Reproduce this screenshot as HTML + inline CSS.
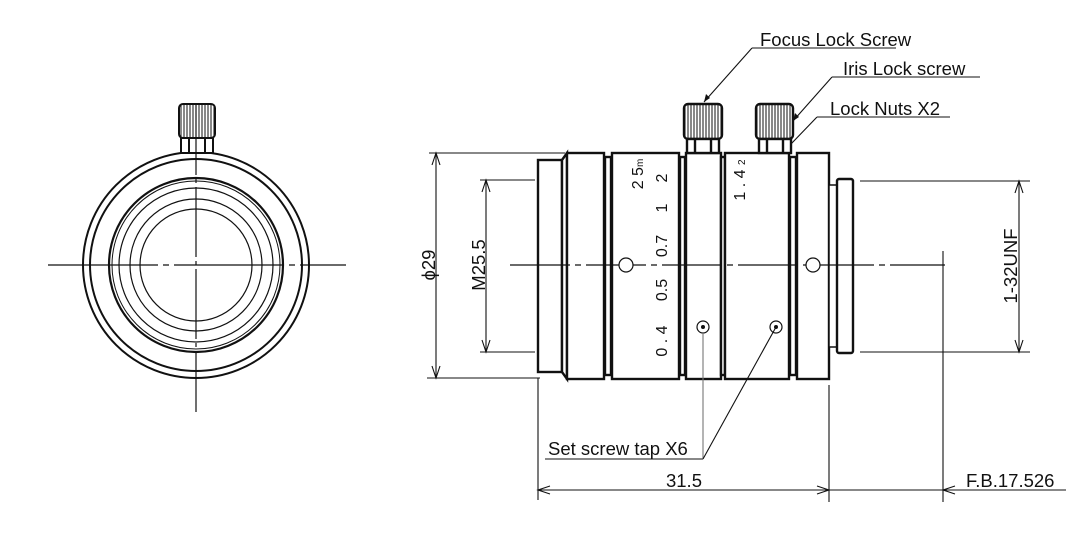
<!DOCTYPE html>
<html><head><meta charset="utf-8"><style>
html,body{margin:0;padding:0;background:#fff}
svg{display:block}
text{font-family:"Liberation Sans",sans-serif;fill:#111}
</style></head><body>
<svg width="1091" height="547" viewBox="0 0 1091 547" xmlns="http://www.w3.org/2000/svg">
<defs>
<pattern id="knurl" width="3" height="10" patternUnits="userSpaceOnUse"><rect width="3" height="10" fill="#fff"/><line x1="1" y1="0" x2="1" y2="10" stroke="#111" stroke-width="1"/></pattern>
</defs>
<!-- LEFT VIEW -->
<g fill="none" stroke="#111">
<circle cx="196" cy="265" r="113" stroke-width="2"/>
<circle cx="196" cy="265" r="106" stroke-width="2"/>
<circle cx="196" cy="265" r="87" stroke-width="2.2"/>
<circle cx="196" cy="265" r="84" stroke-width="1"/>
<circle cx="196" cy="265" r="77" stroke-width="1.2"/>
<circle cx="196" cy="265" r="66" stroke-width="1.2"/>
<circle cx="196" cy="265" r="56" stroke-width="1.2"/>
<rect x="179" y="104" width="36" height="34" rx="4" fill="url(#knurl)" stroke-width="2"/>
<rect x="181" y="138" width="32" height="15" stroke-width="2" fill="#fff"/>
<line x1="189" y1="138" x2="189" y2="153" stroke-width="2"/>
<line x1="205" y1="138" x2="205" y2="153" stroke-width="2"/>
<line x1="196" y1="105" x2="196" y2="412" stroke-width="1.2" stroke-dasharray="70,4,4,4"/>
<line x1="48" y1="265" x2="346" y2="265" stroke-width="1.2" stroke-dasharray="110,5,6,5"/>
</g>
<!-- RIGHT VIEW -->
<g fill="#fff" stroke="#111" stroke-width="2.4">
<rect x="538" y="160" width="24" height="212"/>
<polygon points="562,160 567,153 567,379 562,372"/>
<rect x="567" y="153" width="37" height="226"/>
<rect x="605" y="157" width="6" height="218"/>
<rect x="612" y="153" width="67" height="226"/>
<rect x="680" y="157" width="5" height="218"/>
<rect x="686" y="153" width="35" height="226"/>
<rect x="721" y="157" width="4" height="218"/>
<rect x="725" y="153" width="64" height="226"/>
<rect x="790" y="157" width="6" height="218"/>
<rect x="797" y="153" width="32" height="226"/>
<rect x="829" y="185" width="8" height="162" stroke-width="1.5"/>
<rect x="837" y="179" width="16" height="174" rx="2"/>
<rect x="684" y="104" width="38" height="35" rx="4" fill="url(#knurl)"/>
<rect x="687" y="139" width="32" height="14"/>
<line x1="695" y1="139" x2="695" y2="153"/><line x1="711" y1="139" x2="711" y2="153"/>
<rect x="756" y="104" width="37" height="35" rx="4" fill="url(#knurl)"/>
<rect x="759" y="139" width="32" height="14"/>
<line x1="767" y1="139" x2="767" y2="153"/><line x1="783" y1="139" x2="783" y2="153"/>
</g>
<g fill="none" stroke="#111" stroke-width="1.2">
<line x1="510" y1="265" x2="945" y2="265" stroke-dasharray="60,5,6,5"/>
<circle cx="626" cy="265" r="7" fill="#fff"/>
<circle cx="813" cy="265" r="7" fill="#fff"/>
<circle cx="703" cy="327" r="6" fill="#fff"/>
<circle cx="776" cy="327" r="6" fill="#fff"/>
</g>
<circle cx="703" cy="327" r="2" fill="#111"/>
<circle cx="776" cy="327" r="2" fill="#111"/>
<!-- scale numbers -->
<g font-size="16">
<text transform="translate(643,174) rotate(-90)" text-anchor="middle">2 5<tspan font-size="10">m</tspan></text>
<text transform="translate(667,178) rotate(-90)" text-anchor="middle">2</text>
<text transform="translate(667,208) rotate(-90)" text-anchor="middle">1</text>
<text transform="translate(667,246) rotate(-90)" text-anchor="middle">0.7</text>
<text transform="translate(667,290) rotate(-90)" text-anchor="middle">0.5</text>
<text transform="translate(667,341) rotate(-90)" text-anchor="middle">0 . 4</text>
<text transform="translate(745,180) rotate(-90)" text-anchor="middle">1 . 4 <tspan font-size="10">2</tspan></text>
</g>
<!-- dimensions -->
<g stroke="#111" stroke-width="1.1" fill="none">
<line x1="429" y1="153" x2="565" y2="153"/>
<line x1="427" y1="378" x2="540" y2="378"/>
<line x1="436" y1="153" x2="436" y2="378"/>
<polyline points="432,165 436,153 440,165"/><polyline points="432,366 436,378 440,366"/>
<line x1="480" y1="180" x2="535" y2="180"/>
<line x1="480" y1="352" x2="535" y2="352"/>
<line x1="486" y1="180" x2="486" y2="352"/>
<polyline points="482,192 486,180 490,192"/><polyline points="482,340 486,352 490,340"/>
<line x1="538" y1="378" x2="538" y2="500"/>
<line x1="829" y1="385" x2="829" y2="502"/>
<line x1="943" y1="251" x2="943" y2="502"/>
<line x1="538" y1="490" x2="1066" y2="490"/>
<polyline points="550,486 538,490 550,494"/><polyline points="817,486 829,490 817,494"/>
<polyline points="955,486 943,490 955,494"/>
<line x1="860" y1="181" x2="1030" y2="181"/>
<line x1="860" y1="352" x2="1030" y2="352"/>
<line x1="1019" y1="181" x2="1019" y2="352"/>
<polyline points="1015,193 1019,181 1023,193"/><polyline points="1015,340 1019,352 1023,340"/>
<!-- leaders -->
<line x1="545" y1="459" x2="703" y2="459"/>
<line x1="703" y1="333" x2="703" y2="459" stroke="#777"/>
<line x1="703" y1="459" x2="776" y2="327"/>
<line x1="752" y1="48" x2="896" y2="48"/>
<line x1="752" y1="48" x2="704" y2="102"/>
<line x1="832" y1="77" x2="980" y2="77"/>
<line x1="832" y1="77" x2="793" y2="121"/>
<line x1="817" y1="117" x2="950" y2="117"/>
<line x1="817" y1="117" x2="791" y2="144"/>
</g>
<polygon points="704,102 706,94 710,98" fill="#111"/>
<polygon points="793,121 795,113 799,117" fill="#111"/>
<g font-size="18.5">
<text transform="translate(435,265) rotate(-90)" text-anchor="middle">ϕ29</text>
<text transform="translate(485,265) rotate(-90)" text-anchor="middle">M25.5</text>
<text transform="translate(1017,266) rotate(-90)" text-anchor="middle">1-32UNF</text>
<text x="684" y="487" text-anchor="middle">31.5</text>
<text x="966" y="487">F.B.17.526</text>
<text x="548" y="455">Set screw tap X6</text>
<text x="760" y="46">Focus Lock Screw</text>
<text x="843" y="75">Iris Lock screw</text>
<text x="830" y="115">Lock Nuts X2</text>
</g>
</svg>
</body></html>
